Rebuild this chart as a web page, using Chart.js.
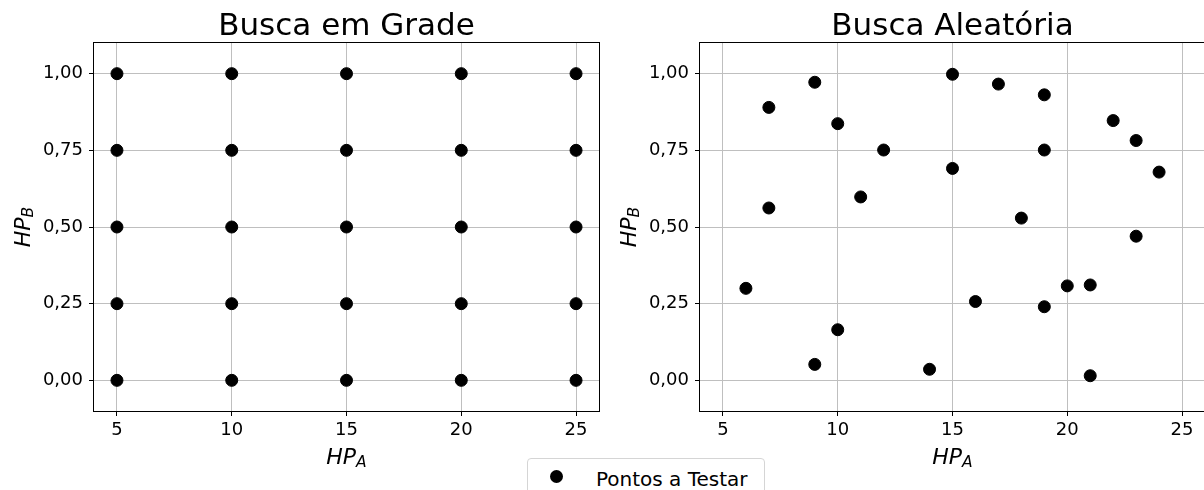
<!DOCTYPE html>
<html>
<head>
<meta charset="utf-8">
<script src="https://cdn.jsdelivr.net/npm/chart.js@4.4.1/dist/chart.umd.min.js"></script>
<style>
  html, body { margin: 0; padding: 0; background: #fff; overflow: hidden; }
  #page { position: relative; width: 1204px; height: 490px; overflow: hidden; }
  .painel { position: absolute; top: 0; }
  #legenda { position: absolute; left: 527px; top: 458px; width: 238px; height: 44px;
             box-sizing: border-box; border: 1px solid #d5d5d5; border-radius: 4px; background: #fff; }
  #legenda-marca { position: absolute; left: 550px; top: 469.5px; width: 13px; height: 13px;
                   border-radius: 50%; background: #000; }
  #legenda-texto { position: absolute; left: 596px; top: 466.5px; line-height: 20px;
                   font: 20px "DejaVu Sans"; color: #000; white-space: nowrap; }
</style>
</head>
<body>
<div id="page">
  <div class="painel" style="left:0"><canvas id="grade" width="610" height="490"></canvas></div>
  <div class="painel" style="left:610px"><canvas id="aleatoria" width="610" height="490"></canvas></div>
  <div id="legenda"></div>
  <div id="legenda-marca"></div>
  <div id="legenda-texto"></div>
</div>
<script>
// eixos
const hpATicks = [5, 10, 15, 20, 25];
const hpBTicks = [0, 0.25, 0.5, 0.75, 1];
const hpBTickLabels = ['0,00', '0,25', '0,50', '0,75', '1,00'];

// busca em grade
const gradeA = [5, 5, 5, 5, 5, 10, 10, 10, 10, 10, 15, 15, 15, 15, 15, 20, 20, 20, 20, 20, 25, 25, 25, 25, 25];
const gradeB = [0, 0.25, 0.5, 0.75, 1, 0, 0.25, 0.5, 0.75, 1, 0, 0.25, 0.5, 0.75, 1, 0, 0.25, 0.5, 0.75, 1, 0, 0.25, 0.5, 0.75, 1];

// busca aleatoria
const aleatA = [6, 7, 7, 9, 9, 10, 10, 11, 12, 14, 15, 15, 16, 17, 18, 19, 19, 19, 20, 21, 21, 22, 23, 23, 24];
const aleatB = [0.30, 0.89, 0.562, 0.972, 0.052, 0.837, 0.165, 0.598, 0.751, 0.036, 0.998, 0.691, 0.257, 0.966, 0.529, 0.931, 0.751, 0.24, 0.308, 0.311, 0.015, 0.847, 0.782, 0.47, 0.679];

const legendLabel = 'Pontos a Testar';

const FONTE = '"DejaVu Sans"';

// texto tipo HP_A (italico com subscrito)
function textoSub(ctx, main, sub, cx, base) {
  ctx.font = 'italic 22px ' + FONTE;
  const w1 = ctx.measureText(main).width;
  ctx.font = 'italic 15.5px ' + FONTE;
  const w2 = ctx.measureText(sub).width;
  const x0 = cx - (w1 + w2) / 2;
  ctx.textAlign = 'left';
  ctx.textBaseline = 'alphabetic';
  ctx.font = 'italic 22px ' + FONTE;
  ctx.fillText(main, x0, base);
  ctx.font = 'italic 15.5px ' + FONTE;
  ctx.fillText(sub, x0 + w1, base + 3);
}

const moldura = {
  id: 'moldura',
  afterDraw(chart, args, opts) {
    const ctx = chart.ctx;
    const a = chart.chartArea;
    ctx.save();
    ctx.strokeStyle = '#000';
    ctx.lineWidth = 1;
    ctx.strokeRect(a.left - 0.5, a.top - 0.5, a.right - a.left + 1, a.bottom - a.top + 1);

    ctx.fillStyle = '#000';
    ctx.font = '31px ' + FONTE;
    ctx.textAlign = 'center';
    ctx.textBaseline = 'alphabetic';
    ctx.fillText(opts.titulo, (a.left + a.right) / 2, 35);

    textoSub(ctx, 'HP', 'A', (a.left + a.right) / 2, 464);

    ctx.translate(a.left - 64, (a.top + a.bottom) / 2);
    ctx.rotate(-Math.PI / 2);
    textoSub(ctx, 'HP', 'B', 0, 0);
    ctx.restore();
  }
};

function criaGrafico(id, titulo, xs, ys, larguraY, padDir) {
  const pontos = xs.map((x, i) => ({ x: x, y: ys[i] }));
  return new Chart(document.getElementById(id), {
    type: 'scatter',
    data: {
      datasets: [{
        label: legendLabel,
        data: pontos,
        pointRadius: 6,
        pointBorderWidth: 1,
        pointBackgroundColor: '#000',
        pointBorderColor: '#000'
      }]
    },
    options: {
      responsive: false,
      animation: false,
      events: [],
      layout: { padding: { left: 0, right: padDir, top: 43, bottom: 0 } },
      plugins: {
        legend: { display: false },
        tooltip: { enabled: false },
        moldura: { titulo: titulo }
      },
      scales: {
        x: {
          type: 'linear', min: 4, max: 26,
          afterBuildTicks: s => { s.ticks = hpATicks.map(v => ({ value: v })); },
          afterFit: s => { s.height = 79; s.paddingLeft = 0; s.paddingRight = 0; },
          border: { display: false },
          grid: { color: '#bfbfbf', lineWidth: 1, tickLength: 5, tickColor: '#000', tickWidth: 1 },
          ticks: { font: { family: 'DejaVu Sans', size: 18 }, color: '#000', padding: 4, maxRotation: 0, autoSkip: false }
        },
        y: {
          type: 'linear', min: -0.1, max: 1.1,
          afterBuildTicks: s => { s.ticks = hpBTicks.map(v => ({ value: v })); },
          afterFit: s => { s.width = larguraY; s.paddingTop = 0; s.paddingBottom = 0; },
          border: { display: false },
          grid: { color: '#bfbfbf', lineWidth: 1, tickLength: 5, tickColor: '#000', tickWidth: 1 },
          ticks: {
            font: { family: 'DejaVu Sans', size: 18 }, color: '#000', padding: 6, autoSkip: false,
            callback: (v, i) => hpBTickLabels[i]
          }
        }
      }
    },
    plugins: [moldura]
  });
}

criaGrafico('grade', 'Busca em Grade', gradeA, gradeB, 94, 11);
criaGrafico('aleatoria', 'Busca Aleatória', aleatA, aleatB, 90, 15);

// legenda compartilhada
document.getElementById('legenda-texto').textContent = legendLabel;
</script>
</body>
</html>
